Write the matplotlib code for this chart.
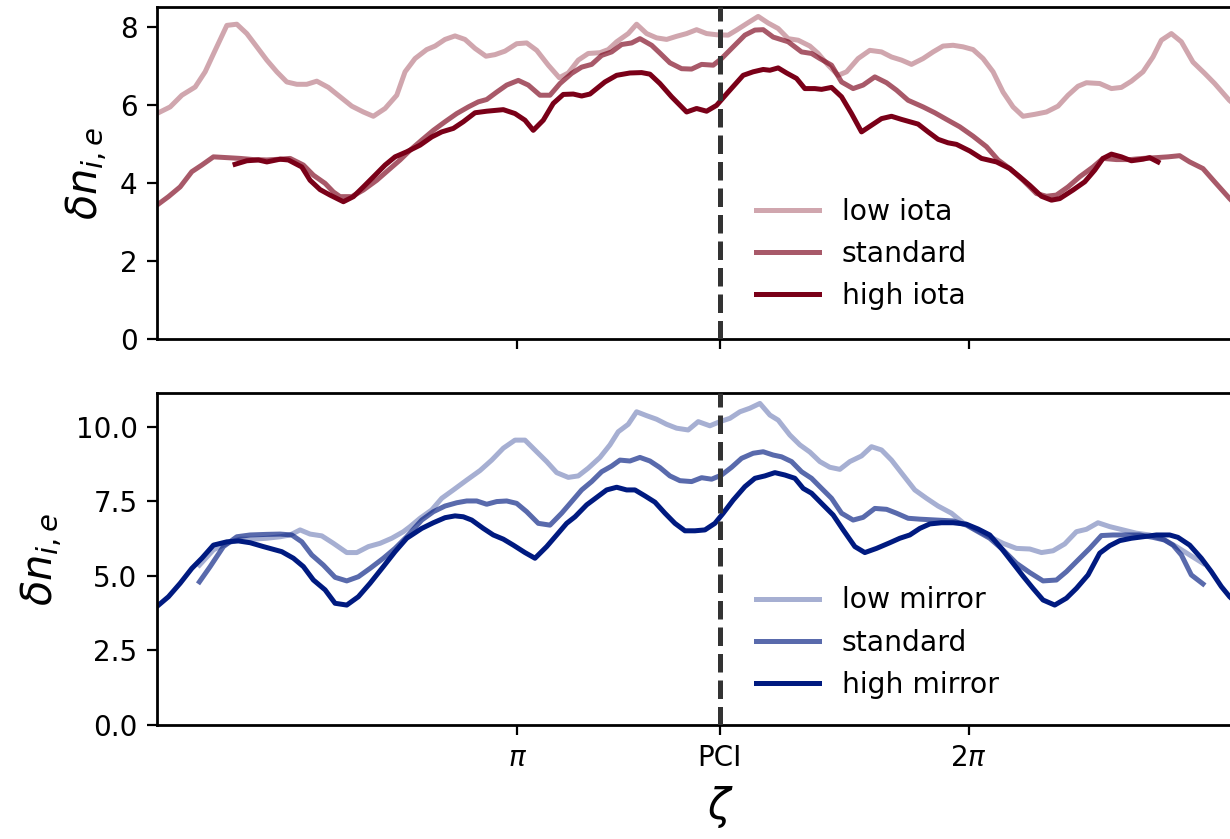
import numpy as np
import matplotlib
matplotlib.use("Agg")
import matplotlib.pyplot as plt

# toroidal angle zeta in units of pi, fluctuation amplitude per configuration
pci_zeta = 1.449  # PCI port location (units of pi)

# --- iota scan ---
low_iota_x = [0.2013,0.2308,0.2567,0.2862,0.3083,0.3304,0.3564,0.3785,0.4006,0.4228,0.4449,0.4671,0.4892,0.5114,0.5335,0.5557,0.5814,0.6073,0.6332,0.6589,0.6810,0.7070,0.7329,0.7513,0.7734,0.7993,0.8177,0.8398,0.8620,0.8841,0.9063,0.9306,0.9506,0.9727,0.9986,1.0208,1.0430,1.0687,1.0930,1.1130,1.1351,1.1572,1.1832,1.2015,1.2202,1.2458,1.2644,1.2866,1.3087,1.3309,1.3530,1.3752,1.3973,1.4195,1.4416,1.4673,1.4859,1.5116,1.5338,1.5559,1.5781,1.6002,1.6224,1.6483,1.6667,1.6888,1.7110,1.7296,1.7552,1.7811,1.8071,1.8292,1.8514,1.8735,1.8992,1.9214,1.9435,1.9657,1.9878,2.0100,2.0321,2.0543,2.0764,2.0986,2.1207,2.1467,2.1725,2.1982,2.2204,2.2425,2.2611,2.2906,2.3165,2.3386,2.3608,2.3865,2.4086,2.4272,2.4494,2.4715,2.4972,2.5232,2.5453,2.5778,2.60]
low_iota_y = [5.78,5.95,6.25,6.46,6.85,7.40,8.04,8.07,7.83,7.49,7.15,6.85,6.59,6.53,6.53,6.61,6.45,6.21,5.97,5.82,5.71,5.91,6.25,6.85,7.19,7.42,7.51,7.68,7.77,7.68,7.45,7.25,7.29,7.38,7.57,7.59,7.40,7.02,6.70,6.82,7.15,7.32,7.34,7.42,7.62,7.83,8.07,7.83,7.72,7.68,7.76,7.83,7.93,7.83,7.80,7.79,7.92,8.11,8.27,8.10,7.96,7.70,7.66,7.51,7.32,7.02,6.76,6.85,7.19,7.40,7.36,7.23,7.15,7.04,7.19,7.36,7.51,7.53,7.49,7.42,7.19,6.85,6.33,5.95,5.71,5.76,5.82,5.97,6.25,6.48,6.57,6.55,6.42,6.45,6.61,6.85,7.23,7.66,7.83,7.62,7.10,6.81,6.55,6.12,5.9]

std_iota_x = [0.2013,0.2270,0.2529,0.2788,0.3010,0.3267,0.3564,0.3858,0.4153,0.4450,0.4744,0.4966,0.5260,0.5482,0.5741,0.5925,0.6073,0.6332,0.6589,0.6886,0.7143,0.7402,0.7624,0.7883,0.8140,0.8399,0.8658,0.8915,0.9136,0.9322,0.9544,0.9765,1.0022,1.0244,1.0503,1.0724,1.0946,1.1205,1.1426,1.1648,1.1869,1.2091,1.2312,1.2534,1.2718,1.2977,1.3160,1.3382,1.3641,1.3862,1.4084,1.4341,1.4527,1.4784,1.5043,1.5265,1.5449,1.5670,1.6002,1.6299,1.6520,1.6704,1.6963,1.7185,1.7442,1.7663,1.7923,1.8182,1.8403,1.8660,1.8992,1.9252,1.9511,1.9805,2.0100,2.0397,2.0654,2.0913,2.1207,2.1504,2.1725,2.1946,2.2204,2.2463,2.2757,2.2979,2.3276,2.3571,2.3865,2.4162,2.4419,2.4677,2.4899,2.5194,2.5453,2.5785,2.60]
std_iota_y = [3.43,3.65,3.90,4.29,4.46,4.67,4.65,4.63,4.60,4.59,4.61,4.63,4.46,4.20,3.99,3.77,3.65,3.65,3.82,4.07,4.33,4.59,4.84,5.10,5.35,5.57,5.78,5.95,6.08,6.14,6.33,6.51,6.63,6.51,6.25,6.25,6.55,6.81,6.97,7.04,7.27,7.36,7.55,7.59,7.70,7.53,7.33,7.08,6.93,6.92,7.04,7.02,7.19,7.49,7.79,7.92,7.93,7.74,7.62,7.36,7.32,7.19,7.02,6.59,6.42,6.51,6.72,6.57,6.38,6.12,5.95,5.80,5.63,5.44,5.20,4.93,4.59,4.37,4.07,3.73,3.66,3.69,3.90,4.16,4.41,4.63,4.60,4.60,4.63,4.65,4.67,4.70,4.54,4.37,4.03,3.60,3.35]

high_iota_x = [0.3747,0.4006,0.4264,0.4450,0.4744,0.4928,0.5225,0.5408,0.5630,0.5851,0.6146,0.6368,0.6589,0.6848,0.7070,0.7291,0.7550,0.7845,0.8104,0.8326,0.8583,0.8804,0.9063,0.9322,0.9690,0.9949,1.0170,1.0354,1.0576,1.0797,1.1019,1.1240,1.1426,1.1610,1.1942,1.2201,1.2496,1.2755,1.2939,1.3160,1.3419,1.3752,1.3973,1.4195,1.4416,1.4673,1.5005,1.5227,1.5449,1.5597,1.5781,1.5967,1.6188,1.6372,1.6594,1.6742,1.6963,1.7185,1.7406,1.7628,1.7849,1.8071,1.8292,1.8514,1.8881,1.9103,1.9324,1.9546,1.9732,2.0027,2.0286,2.0618,2.0913,2.1134,2.1356,2.1615,2.1837,2.2020,2.2315,2.2574,2.2796,2.2979,2.3165,2.3386,2.3608,2.3865,2.4013,2.4197]
high_iota_y = [4.48,4.57,4.59,4.54,4.61,4.59,4.41,4.07,3.83,3.69,3.52,3.65,3.90,4.20,4.46,4.67,4.80,4.97,5.18,5.31,5.40,5.57,5.80,5.84,5.88,5.78,5.61,5.35,5.61,6.04,6.27,6.28,6.23,6.28,6.59,6.76,6.82,6.83,6.79,6.55,6.21,5.82,5.91,5.84,5.99,6.33,6.76,6.85,6.91,6.89,6.95,6.82,6.68,6.42,6.42,6.40,6.45,6.21,5.78,5.31,5.48,5.65,5.71,5.63,5.51,5.31,5.12,5.03,4.99,4.82,4.63,4.54,4.37,4.16,3.94,3.66,3.56,3.60,3.82,4.03,4.33,4.63,4.74,4.67,4.57,4.61,4.65,4.54]

# --- mirror scan ---
low_mirror_x = [0.2957,0.3267,0.3564,0.3858,0.4153,0.4450,0.4744,0.4966,0.5187,0.5408,0.5668,0.5925,0.6221,0.6443,0.6700,0.6959,0.7218,0.7475,0.7624,0.7845,0.8104,0.8326,0.8583,0.8879,0.9174,0.9433,0.9690,0.9949,1.0170,1.0430,1.0651,1.0873,1.1130,1.1351,1.1572,1.1832,1.2053,1.2237,1.2458,1.2644,1.2866,1.3087,1.3309,1.3530,1.3787,1.4009,1.4268,1.4490,1.4711,1.4933,1.5154,1.5376,1.5598,1.5781,1.6040,1.6262,1.6483,1.6704,1.6926,1.7147,1.7369,1.7628,1.7849,1.8071,1.8292,1.8549,1.8808,1.9067,1.9324,1.9621,1.9878,2.0175,2.0469,2.0764,2.1061,2.1356,2.1615,2.1872,2.2131,2.2390,2.2611,2.2868,2.3128,2.3422,2.3718,2.4013,2.4308,2.4604,2.4899,2.5194]
low_mirror_y = [5.36,5.87,6.09,6.23,6.23,6.26,6.31,6.37,6.54,6.40,6.34,6.09,5.78,5.78,5.98,6.09,6.26,6.48,6.65,6.93,7.21,7.60,7.88,8.21,8.53,8.88,9.28,9.55,9.55,9.16,8.83,8.46,8.30,8.35,8.61,8.97,9.39,9.83,10.08,10.50,10.37,10.25,10.08,9.95,9.89,10.17,10.03,10.17,10.28,10.50,10.62,10.78,10.39,10.22,9.72,9.39,9.15,8.83,8.64,8.57,8.83,9.02,9.33,9.22,8.88,8.38,7.88,7.60,7.34,7.10,6.78,6.54,6.31,6.09,5.92,5.90,5.78,5.84,6.07,6.48,6.56,6.78,6.65,6.54,6.43,6.37,6.23,5.98,5.70,5.42]

std_mirror_x = [0.2957,0.3194,0.3488,0.3785,0.4080,0.4450,0.4744,0.5003,0.5225,0.5446,0.5703,0.5962,0.6221,0.6478,0.6737,0.7032,0.7291,0.7550,0.7883,0.8140,0.8399,0.8658,0.8879,0.9101,0.9322,0.9544,0.9765,0.9986,1.0208,1.0465,1.0724,1.0983,1.1205,1.1426,1.1648,1.1869,1.2091,1.2275,1.2496,1.2718,1.2939,1.3160,1.3382,1.3604,1.3863,1.4084,1.4306,1.4527,1.4749,1.4970,1.5227,1.5449,1.5670,1.5856,1.6078,1.6299,1.6520,1.6704,1.6963,1.7185,1.7442,1.7663,1.7923,1.8182,1.8403,1.8660,1.8920,1.9289,1.9657,1.9953,2.0210,2.0469,2.0764,2.1061,2.1356,2.1651,2.1947,2.2168,2.2425,2.2684,2.2943,2.3200,2.3497,2.3792,2.4086,2.4345,2.4529,2.4715,2.4936,2.5194]
std_mirror_y = [4.80,5.31,5.98,6.31,6.37,6.39,6.40,6.37,6.14,5.70,5.36,4.95,4.83,4.97,5.25,5.59,5.92,6.31,6.87,7.15,7.34,7.45,7.51,7.51,7.40,7.49,7.51,7.43,7.15,6.76,6.70,7.10,7.49,7.88,8.16,8.49,8.68,8.88,8.85,8.97,8.85,8.63,8.35,8.19,8.16,8.29,8.24,8.38,8.64,8.94,9.11,9.16,9.05,8.99,8.83,8.49,8.27,7.99,7.60,7.10,6.87,6.96,7.26,7.23,7.10,6.93,6.90,6.87,6.84,6.70,6.48,6.26,5.87,5.42,5.11,4.83,4.86,5.14,5.53,5.92,6.35,6.37,6.37,6.37,6.29,6.20,6.03,5.70,5.03,4.73]

high_mirror_x = [0.2013,0.2270,0.2529,0.2788,0.3010,0.3267,0.3564,0.3821,0.4080,0.4374,0.4782,0.5039,0.5260,0.5482,0.5741,0.5962,0.6221,0.6478,0.6737,0.7032,0.7291,0.7550,0.7883,0.8140,0.8399,0.8620,0.8804,0.8990,0.9247,0.9468,0.9690,0.9911,1.0170,1.0392,1.0651,1.0873,1.1094,1.1279,1.1537,1.1759,1.1980,1.2202,1.2423,1.2607,1.2829,1.3050,1.3272,1.3493,1.3715,1.3936,1.4158,1.4379,1.4563,1.4784,1.5043,1.5265,1.5486,1.5708,1.5930,1.6151,1.6336,1.6520,1.6742,1.6999,1.7221,1.7480,1.7701,1.7960,1.8255,1.8477,1.8698,1.8920,1.9141,1.9400,1.9657,1.9953,2.0210,2.0469,2.0728,2.0986,2.1207,2.1428,2.1650,2.1909,2.2168,2.2390,2.2647,2.2906,2.3128,2.3349,2.3608,2.3865,2.4162,2.4456,2.4640,2.4899,2.5158,2.5380,2.5601,2.5785,2.60]
high_mirror_y = [3.97,4.30,4.75,5.25,5.59,6.03,6.14,6.17,6.11,5.98,5.81,5.59,5.31,4.86,4.53,4.08,4.02,4.30,4.75,5.31,5.81,6.26,6.59,6.78,6.95,7.01,6.98,6.87,6.59,6.37,6.23,6.03,5.78,5.59,5.98,6.37,6.76,6.98,7.38,7.63,7.88,7.97,7.88,7.88,7.68,7.47,7.10,6.76,6.51,6.51,6.54,6.76,7.10,7.54,7.99,8.27,8.35,8.46,8.38,8.27,7.93,7.77,7.43,7.04,6.54,5.98,5.78,5.92,6.11,6.26,6.37,6.59,6.74,6.78,6.78,6.73,6.57,6.37,5.92,5.42,4.99,4.58,4.19,4.02,4.25,4.58,5.03,5.76,6.01,6.18,6.26,6.31,6.37,6.37,6.29,6.03,5.59,5.14,4.64,4.30,4.0]

iota_labels = ["low iota", "standard", "high iota"]
mirror_labels = ["low mirror", "standard", "high mirror"]
alphas = [0.35, 0.65, 1.0]

red = "#7a0018"
blue = "#001a80"

plt.rcParams["font.size"] = 10
plt.rcParams["axes.linewidth"] = 1.0

fig = plt.figure(figsize=(6.15, 4.195), dpi=200)
# the axes run past the right edge of the canvas
ax1 = fig.add_axes([0.1276, 0.5959, 0.9154, 0.3957])
ax2 = fig.add_axes([0.1276, 0.1359, 0.9154, 0.3957], sharex=ax1)

iota_sets = [(low_iota_x, low_iota_y), (std_iota_x, std_iota_y), (high_iota_x, high_iota_y)]
mirror_sets = [(low_mirror_x, low_mirror_y), (std_mirror_x, std_mirror_y), (high_mirror_x, high_mirror_y)]

for (x, y), lab, a in zip(iota_sets, iota_labels, alphas):
    ax1.plot(np.array(x) * np.pi, y, color=red, alpha=a, lw=1.8, label=lab)
for (x, y), lab, a in zip(mirror_sets, mirror_labels, alphas):
    ax2.plot(np.array(x) * np.pi, y, color=blue, alpha=a, lw=1.8, label=lab)

for ax, anchor_y in ((ax1, 0.502), (ax2, 0.494)):
    ax.axvline(pci_zeta * np.pi, color="#333333", ls="--", lw=1.8, zorder=3)
    ax.set_ylabel(r"$\delta n_{i,e}$", fontsize=15)
    ax.legend(frameon=False, loc="upper left", bbox_to_anchor=(0.509, anchor_y),
              fontsize=10.2, handlelength=2.25)

half = 1.2475
ax1.set_xlim((pci_zeta - half) * np.pi, (pci_zeta + half) * np.pi)
ax1.set_ylim(0, 8.51)
ax2.set_ylim(0, 11.13)
ax1.set_yticks([0, 2, 4, 6, 8])
ax2.set_yticks([0.0, 2.5, 5.0, 7.5, 10.0])

ax2.set_xticks([np.pi, pci_zeta * np.pi, 2 * np.pi])
ax2.set_xticklabels([r"$\pi$", "PCI", r"$2\pi$"])
ax1.tick_params(labelbottom=False)
ax2.set_xlabel(r"$\zeta$", fontsize=15)

fig.savefig("out.png", dpi=200)
